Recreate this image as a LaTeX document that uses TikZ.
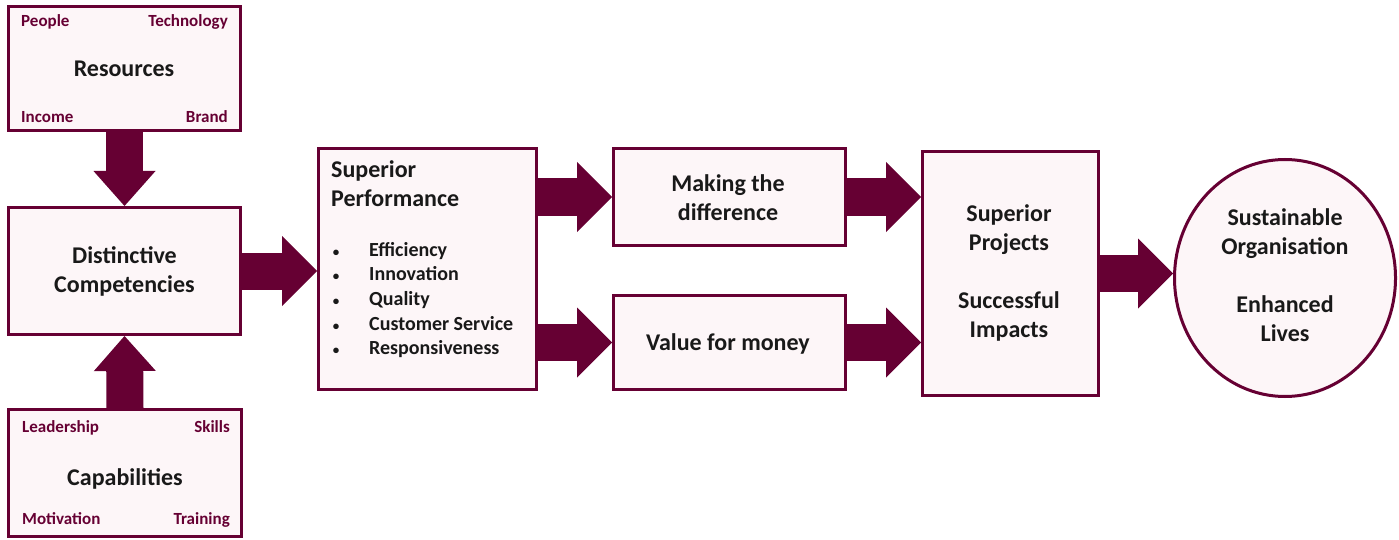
\documentclass[tikz,border=0pt]{standalone}
\usepackage{fontspec}
\setmainfont{Carlito}
\usetikzlibrary{arrows.meta,shapes.geometric}
\definecolor{maroon}{RGB}{102,0,51}
\definecolor{boxfill}{RGB}{253,246,248}
\tikzset{
  box/.style={rectangle, draw=maroon, line width=3pt, fill=boxfill, inner sep=0pt},
  bigarrow/.style={draw=maroon, line width=37pt, -{Triangle[length=35pt,width=70pt,line width=0pt]}},
  uparrow/.style={draw=maroon, line width=37pt, -{Triangle[length=35pt,width=62pt,line width=0pt]}},
  maintext/.style={inner sep=0pt, align=center, text=black!90, font=\fontsize{24}{29}\selectfont\bfseries},
  corner/.style={inner sep=0pt, text=maroon, font=\fontsize{17}{20}\selectfont\bfseries},
  listtext/.style={inner sep=0pt, text=black!90, font=\fontsize{20}{24}\selectfont\bfseries},
  listdot/.style={inner sep=0pt, text=black!90, font=\fontsize{13}{15}\selectfont\bfseries}
}
\begin{document}
\begin{tikzpicture}[x=1pt,y=-1pt]
    \useasboundingbox (0,0) rectangle (1399,540);
    % boxes
    \node[box, minimum width=232pt, minimum height=124pt] (res) at (124.5,68.5) {};
    \node[box, minimum width=232pt, minimum height=127pt] (dist) at (124.5,271) {};
    \node[box, minimum width=233pt, minimum height=127pt] (cap) at (125,473) {};
    \node[box, minimum width=218pt, minimum height=241pt] (perf) at (427.5,269) {};
    \node[box, minimum width=232pt, minimum height=97pt] (diff) at (729.5,197) {};
    \node[box, minimum width=232pt, minimum height=94pt] (value) at (729.5,342.5) {};
    \node[box, minimum width=176pt, minimum height=244pt] (proj) at (1010.5,273.5) {};
    \node[box, ellipse, minimum width=221pt, minimum height=237pt] (org) at (1285,278) {};
    % arrows
    \draw[uparrow] (res.south) -- (dist.north);
    \draw[uparrow] (cap.north) -- (dist.south);
    \draw[bigarrow] (dist.east) -- (dist.east -| perf.west);
    \draw[bigarrow] (perf.east |- diff.west) -- (diff.west);
    \draw[bigarrow] (perf.east |- value.west) -- (value.west);
    \draw[bigarrow] (diff.east) -- (diff.east -| proj.west);
    \draw[bigarrow] (value.east) -- (value.east -| proj.west);
    \draw[bigarrow] (proj.east) -- (proj.east -| org.west);
    % texts
    \node[maintext, anchor=base] (restxt) at (124,77) {Resources};
    \node[corner, anchor=base west] (people) at (21,27) {People};
    \node[corner, anchor=base east] (tech) at (228,27) {Technology};
    \node[corner, anchor=base west] (income) at (21,123) {Income};
    \node[corner, anchor=base east] (brand) at (228,123) {Brand};
    \node[maintext] (disttxt) at (124.5,271) {Distinctive\\Competencies};
    \node[maintext, anchor=base] (captxt) at (125,485) {Capabilities};
    \node[corner, anchor=base west] (lead) at (22,432) {Leadership};
    \node[corner, anchor=base east] (skills) at (230,432) {Skills};
    \node[corner, anchor=base west] (motiv) at (22,524) {Motivation};
    \node[corner, anchor=base east] (train) at (230,524) {Training};
    \node[maintext, align=left, anchor=north west] (perftxt) at (331,160) {Superior\\Performance};
    \foreach \txt [count=\i] in {Efficiency, Innovation, Quality, Customer Service, Responsiveness} {
        \node[listdot, anchor=base] (dot\i) at (336,231.3+24.7*\i) {\textbullet};
        \node[listtext, anchor=base west] (item\i) at (369,231.3+24.7*\i) {\txt};
    }
    \node[maintext] (difftxt) at (728,198) {Making the\\difference};
    \node[maintext] (valuetxt) at (728,344) {Value for money};
    \node[maintext] (projtxt) at (1009,273) {Superior\\Projects\\[29pt]Successful\\Impacts};
    \node[maintext] (orgtxt) at (1285,275) {Sustainable\\Organisation\\[29pt]Enhanced\\Lives};
\end{tikzpicture}
\end{document}
